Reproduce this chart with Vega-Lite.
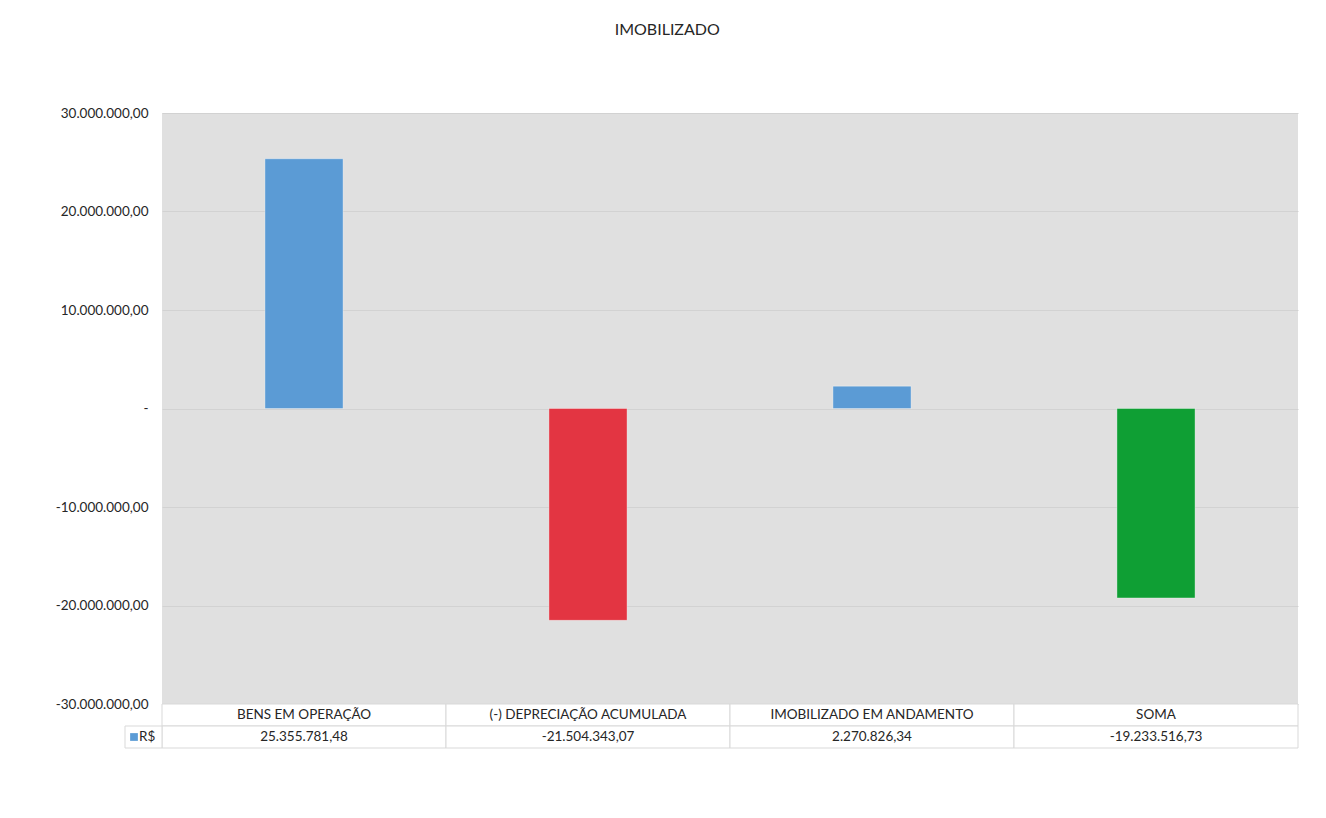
{
  "$schema": "https://vega.github.io/schema/vega-lite/v6.json",
  "background": "white",
  "padding": {"left": 52, "top": 22, "right": 10, "bottom": 10},
  "bounds": "flush",
  "spacing": 0,
  "config": {
    "font": "Lato",
    "locale": {"number": {"decimal": ",", "thousands": ".", "grouping": [3], "currency": ["R$", ""], "minus": "-"}},
    "view": {"stroke": null},
    "concat": {"spacing": 0}
  },
  "title": {"text": "IMOBILIZADO", "anchor": "middle", "fontSize": 16, "fontWeight": "normal", "color": "#262626", "font": "Lato", "offset": 68, "dx": -8},
  "data": {"values": [
    {"categoria": "BENS EM OPERAÇÃO", "valor": 25355781.48},
    {"categoria": "(-) DEPRECIAÇÃO ACUMULADA", "valor": -21504343.07},
    {"categoria": "IMOBILIZADO EM ANDAMENTO", "valor": 2270826.34},
    {"categoria": "SOMA", "valor": -19233516.73}
  ]},
  "vconcat": [
    {
      "width": 1136,
      "height": 591,
      "view": {"fill": "#e0e0e0", "stroke": null},
      "mark": {"type": "bar", "width": {"band": 0.275}, "stroke": "#ffffff", "strokeOpacity": 0.35, "strokeWidth": 1},
      "encoding": {
        "x": {"field": "categoria", "type": "nominal", "sort": null,
              "scale": {"paddingInner": 0, "paddingOuter": 0}, "axis": null},
        "y": {"field": "valor", "type": "quantitative",
              "scale": {"domain": [-30000000, 30000000], "nice": false},
              "axis": {"title": null, "values": [-30000000, -20000000, -10000000, 0, 10000000, 20000000, 30000000],
                       "labelExpr": "datum.value == 0 ? '-' : format(datum.value, ',.2f')",
                       "labelFontSize": 13.5, "labelColor": "#262626", "labelFont": "Lato",
                       "labelOverlap": false,
                       "ticks": false, "domain": false, "labelPadding": 14,
                       "minExtent": 110, "maxExtent": 110,
                       "grid": true, "gridColor": "#d2d2d2", "gridWidth": 1}},
        "color": {"field": "categoria", "type": "nominal", "legend": null,
                  "scale": {"domain": ["BENS EM OPERAÇÃO", "(-) DEPRECIAÇÃO ACUMULADA", "IMOBILIZADO EM ANDAMENTO", "SOMA"],
                            "range": ["#5b9bd5", "#e33542", "#5b9bd5", "#0f9f34"]}}
      }
    },
    {
      "width": 1136,
      "height": 44,
      "layer": [
        {
          "mark": {"type": "rect", "fill": "white", "stroke": "#d9d9d9", "strokeWidth": 1},
          "encoding": {
            "x": {"field": "categoria", "type": "nominal", "sort": null, "scale": {"paddingInner": 0, "paddingOuter": 0}, "axis": null},
            "y": {"datum": "h", "type": "nominal", "scale": {"domain": ["h", "v"], "paddingInner": 0, "paddingOuter": 0}, "axis": null}
          }
        },
        {
          "mark": {"type": "rect", "fill": "white", "stroke": "#d9d9d9", "strokeWidth": 1},
          "encoding": {
            "x": {"field": "categoria", "type": "nominal", "sort": null},
            "y": {"datum": "v", "type": "nominal"}
          }
        },
        {
          "transform": [{"filter": "datum.categoria == 'BENS EM OPERAÇÃO'"}],
          "mark": {"type": "rect", "fill": "white", "stroke": "#d9d9d9", "strokeWidth": 1, "width": 37, "xOffset": -160.5},
          "encoding": {
            "x": {"field": "categoria", "type": "nominal", "sort": null},
            "y": {"datum": "v", "type": "nominal"}
          }
        },
        {
          "transform": [{"filter": "datum.categoria == 'BENS EM OPERAÇÃO'"}],
          "mark": {"type": "point", "shape": "square", "filled": true, "color": "#5b9bd5", "size": 60, "opacity": 1, "xOffset": -170},
          "encoding": {
            "x": {"field": "categoria", "type": "nominal", "sort": null},
            "y": {"datum": "v", "type": "nominal"}
          }
        },
        {
          "transform": [{"filter": "datum.categoria == 'BENS EM OPERAÇÃO'"}],
          "mark": {"type": "text", "text": "R$", "align": "left", "dx": -165, "fontSize": 13.5, "color": "#262626", "font": "Lato"},
          "encoding": {
            "x": {"field": "categoria", "type": "nominal", "sort": null},
            "y": {"datum": "v", "type": "nominal"}
          }
        },
        {
          "mark": {"type": "text", "fontSize": 13.5, "color": "#262626", "font": "Lato"},
          "encoding": {
            "x": {"field": "categoria", "type": "nominal", "sort": null},
            "y": {"datum": "h", "type": "nominal"},
            "text": {"field": "categoria", "type": "nominal"}
          }
        },
        {
          "mark": {"type": "text", "fontSize": 13.5, "color": "#262626", "font": "Lato"},
          "encoding": {
            "x": {"field": "categoria", "type": "nominal", "sort": null},
            "y": {"datum": "v", "type": "nominal"},
            "text": {"field": "valor", "type": "quantitative", "format": ",.2f"}
          }
        }
      ]
    }
  ]
}
